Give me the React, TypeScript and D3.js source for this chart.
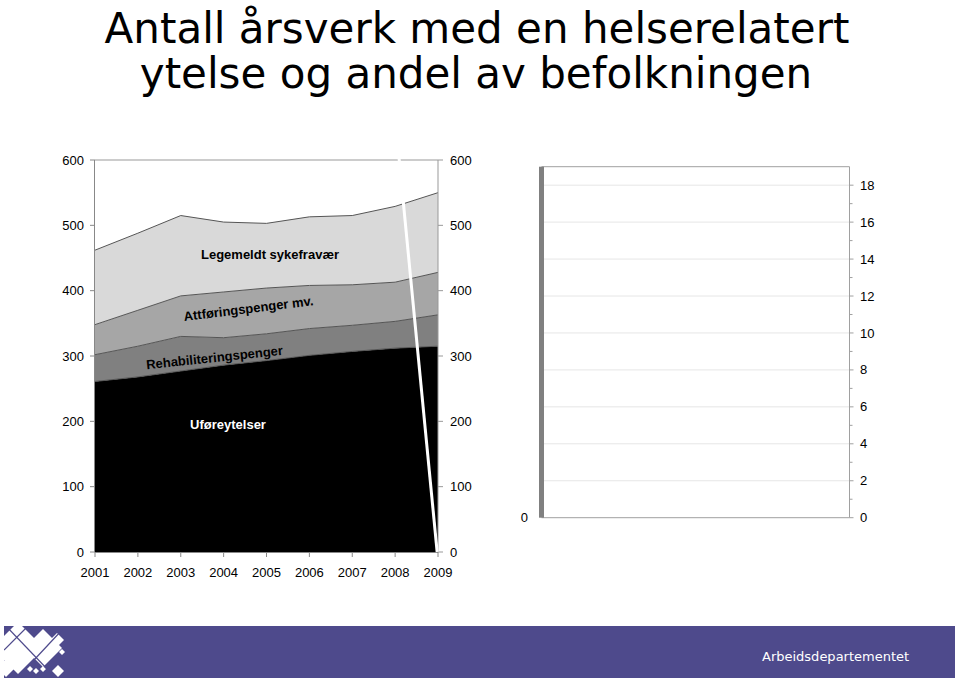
import React from "react";
import * as d3 from "d3";

// ---- Data ----
const years = [2001, 2002, 2003, 2004, 2005, 2006, 2007, 2008, 2009];
const uforeytelser = [261, 268, 277, 286, 293, 301, 307, 312, 315];
const rehabiliteringspenger = [41, 47, 53, 42, 41, 41, 40, 41, 48];
const attforingspenger = [46, 55, 62, 70, 70, 66, 62, 60, 65];
const sykefravaer = [114, 118, 123, 107, 99, 105, 106, 116, 122];
const leftTicks = [0, 100, 200, 300, 400, 500, 600];
const rightPanelTicks = [0, 2, 4, 6, 8, 10, 12, 14, 16, 18];
const rightPanelMinor = [1, 3, 5, 7, 9, 11, 13, 15, 17];
// the stray white line (secondary series artifact)
const whiteLineYears = [2008.09, 2008.98];
const whiteLineValues = [604, 0];

const seriesKeys = ["ufore", "rehab", "attforing", "syke"];
const seriesColors: Record<string, string> = {
  ufore: "#000000",
  rehab: "#808080",
  attforing: "#a6a6a6",
  syke: "#d9d9d9",
};

const rows = years.map((y, i) => ({
  year: y,
  ufore: uforeytelser[i],
  rehab: rehabiliteringspenger[i],
  attforing: attforingspenger[i],
  syke: sykefravaer[i],
}));

const FONT = "'Liberation Sans', Arial, sans-serif";
const TITLE_FONT = "'DejaVu Sans', Verdana, sans-serif";

export default function App() {
  // Left chart scales
  const x = d3.scaleLinear().domain([2001, 2009]).range([95, 438]);
  const y = d3.scaleLinear().domain([0, 600]).range([552, 160]);

  const stack = d3.stack<any>().keys(seriesKeys);
  const layers = stack(rows);
  const area = d3
    .area<any>()
    .x((d) => x(d.data.year))
    .y0((d) => y(d[0]))
    .y1((d) => y(d[1]));
  const topLine = d3
    .line<any>()
    .x((d) => x(d.data.year))
    .y((d) => y(d[1]));

  const whiteLine = d3
    .line<number>()
    .x((d, i) => x(whiteLineYears[i]))
    .y((d) => y(d));

  // Right panel scales
  const x2 = d3.scaleLinear().domain([0, 1]).range([541.5, 849.5]);
  const y2 = d3.scaleLinear().domain([0, 19]).range([517.7, 166.7]);

  const bandColor = "#4e4a8c";

  return (
    <svg
      width={960}
      height={681}
      style={{ position: "absolute", left: 0, top: 0, background: "#fff" }}
    >
      {/* Title */}
      <text
        x={477}
        y={43}
        textAnchor="middle"
        fontFamily={TITLE_FONT}
        fontSize={42}
        fill="#000"
      >
        Antall årsverk med en helserelatert
      </text>
      <text
        x={476}
        y={88}
        textAnchor="middle"
        fontFamily={TITLE_FONT}
        fontSize={42}
        fill="#000"
      >
        ytelse og andel av befolkningen
      </text>

      {/* Left chart: stacked areas */}
      {layers.map((layer) => (
        <path
          key={layer.key}
          d={area(layer) || ""}
          fill={seriesColors[layer.key]}
        />
      ))}
      {layers.map((layer) => (
        <path
          key={"l" + layer.key}
          d={topLine(layer) || ""}
          fill="none"
          stroke="#555"
          strokeWidth={1}
        />
      ))}

      {/* plot frame */}
      <line x1={x(2001)} x2={x(2009)} y1={y(600)} y2={y(600)} stroke="#999" strokeWidth={1} />
      <line x1={x(2001) - 0.5} x2={x(2001) - 0.5} y1={y(600)} y2={y(0)} stroke="#888" strokeWidth={1} />
      <line x1={x(2009)} x2={x(2009)} y1={y(600)} y2={y(0)} stroke="#999" strokeWidth={1} />
      <line x1={x(2001)} x2={x(2009)} y1={y(0) + 0.5} y2={y(0) + 0.5} stroke="#888" strokeWidth={1} />

      {/* left axis ticks & labels */}
      {leftTicks.map((t) => (
        <g key={"lt" + t}>
          <line x1={x(2001) - 5} x2={x(2001)} y1={y(t)} y2={y(t)} stroke="#888" />
          <text
            x={84}
            y={y(t)}
            dy="0.35em"
            textAnchor="end"
            fontFamily={FONT}
            fontSize={13}
            fill="#000"
          >
            {t}
          </text>
          <line x1={x(2009)} x2={x(2009) + 5} y1={y(t)} y2={y(t)} stroke="#999" />
          <text
            x={450}
            y={y(t)}
            dy="0.35em"
            textAnchor="start"
            fontFamily={FONT}
            fontSize={13}
            fill="#000"
          >
            {t}
          </text>
        </g>
      ))}

      {/* x axis ticks & labels */}
      {years.map((yr) => (
        <g key={"xt" + yr}>
          <line x1={x(yr)} x2={x(yr)} y1={y(0)} y2={y(0) + 5} stroke="#888" />
          <text
            x={x(yr)}
            y={577}
            textAnchor="middle"
            fontFamily={FONT}
            fontSize={13}
            fill="#000"
          >
            {yr}
          </text>
        </g>
      ))}

      {/* white line artifact */}
      <path
        d={whiteLine(whiteLineValues) || ""}
        fill="none"
        stroke="#fff"
        strokeWidth={3}
      />

      {/* series labels */}
      <text x={270} y={259} textAnchor="middle" fontFamily={FONT} fontSize={13} fontWeight="bold" fill="#000">
        Legemeldt sykefravær
      </text>
      <text
        transform="translate(249,313) rotate(-7)"
        textAnchor="middle"
        fontFamily={FONT}
        fontSize={13}
        fontWeight="bold"
        fill="#000"
      >
        Attføringspenger mv.
      </text>
      <text
        transform="translate(215,362) rotate(-6)"
        textAnchor="middle"
        fontFamily={FONT}
        fontSize={13}
        fontWeight="bold"
        fill="#000"
      >
        Rehabiliteringspenger
      </text>
      <text x={228} y={429} textAnchor="middle" fontFamily={FONT} fontSize={13} fontWeight="bold" fill="#fff">
        Uføreytelser
      </text>

      {/* Right panel */}
      {rightPanelTicks
        .filter((t) => t > 0)
        .map((t) => (
          <line
            key={"g" + t}
            x1={x2(0)}
            x2={x2(1)}
            y1={y2(t)}
            y2={y2(t)}
            stroke="#e6e6e6"
            strokeWidth={1}
          />
        ))}
      <line x1={x2(0)} x2={x2(1)} y1={y2(19)} y2={y2(19)} stroke="#a0a0a0" strokeWidth={1} />
      <line x1={x2(0)} x2={x2(1)} y1={y2(0)} y2={y2(0)} stroke="#a0a0a0" strokeWidth={1} />
      <line x1={x2(1)} x2={x2(1)} y1={y2(19)} y2={y2(0)} stroke="#a0a0a0" strokeWidth={1} />
      <rect x={x2(0) - 2.5} y={y2(19)} width={5} height={y2(0) - y2(19)} fill="#808080" />
      {rightPanelTicks.map((t) => (
        <g key={"rt" + t}>
          <line x1={x2(1)} x2={x2(1) + 4} y1={y2(t)} y2={y2(t)} stroke="#a0a0a0" />
          <text
            x={860}
            y={y2(t)}
            dy="0.35em"
            fontFamily={FONT}
            fontSize={13}
            fill="#000"
          >
            {t}
          </text>
        </g>
      ))}
      {rightPanelMinor.map((t) => (
        <line key={"rm" + t} x1={x2(1)} x2={x2(1) + 3} y1={y2(t)} y2={y2(t)} stroke="#a0a0a0" />
      ))}
      <text x={528} y={y2(0)} dy="0.35em" textAnchor="end" fontFamily={FONT} fontSize={13} fill="#000">
        0
      </text>

      {/* Footer band */}
      <rect x={4} y={626} width={951} height={52} fill={bandColor} />
      <defs>
        <clipPath id="logoClip">
          <rect x={4} y={626} width={62} height={52} />
        </clipPath>
      </defs>
      <g clipPath="url(#logoClip)">
        {[
          [18, 648, 26],
          [43, 648, 19],
          [57, 640, 7],
          [62, 652, 3],
          [30, 669, 3],
          [36, 671, 3],
          [43, 669, 3],
          [58, 671, 6],
          [6, 668, 9],
        ].map(([cx, cy, r], i) => (
          <path
            key={"dm" + i}
            d={`M${cx},${cy - r} L${cx + r},${cy} L${cx},${cy + r} L${cx - r},${cy} Z`}
            fill="#fff"
          />
        ))}
        <line x1={6} y1={626} x2={50} y2={672} stroke={bandColor} strokeWidth={1.2} />
        <line x1={28} y1={626} x2={4} y2={650} stroke={bandColor} strokeWidth={1.2} />
        <line x1={62} y1={630} x2={34} y2={660} stroke={bandColor} strokeWidth={1.2} />
      </g>
      <text x={762} y={661} fontFamily={TITLE_FONT} fontSize={13} fill="#fff">
        Arbeidsdepartementet
      </text>
    </svg>
  );
}
